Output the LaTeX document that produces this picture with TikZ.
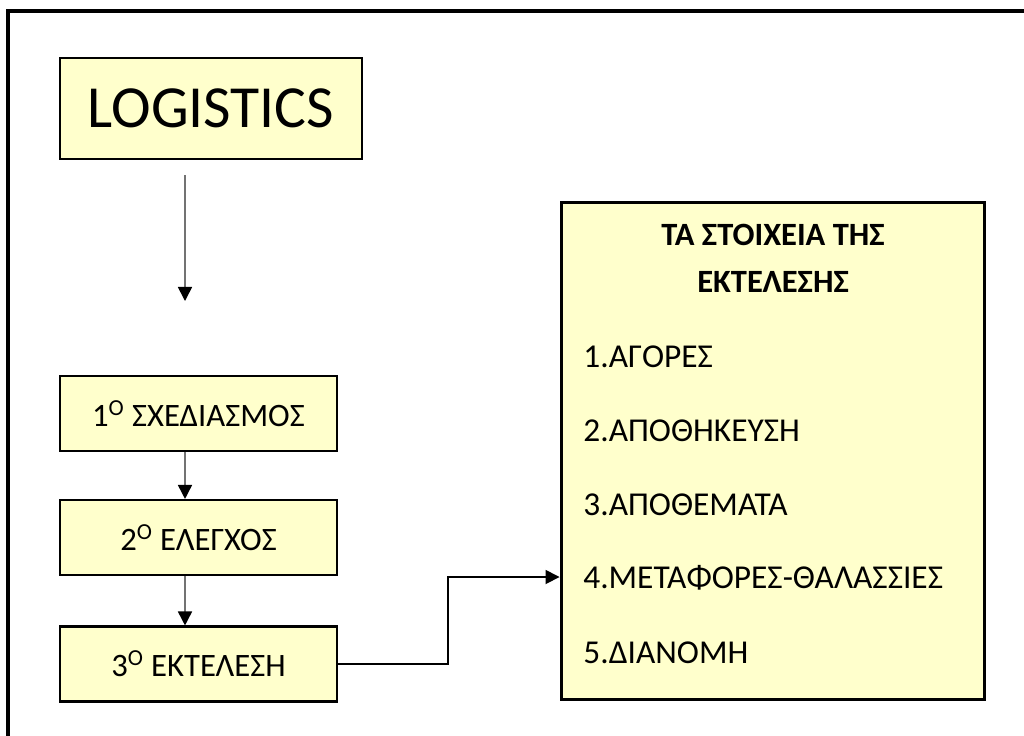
\documentclass[tikz,border=0pt]{standalone}
\usepackage{fontspec}
\setmainfont{Carlito}
\usepackage{tikz}
\usetikzlibrary{arrows.meta,positioning}
\definecolor{boxyellow}{RGB}{255,255,204}
\tikzset{
  stepbox/.style={draw=black, line width=1.2pt, fill=boxyellow, inner sep=0pt,
    minimum width=5.54cm, minimum height=1.5cm, font=\fontsize{18.6}{22}\selectfont},
  item/.style={anchor=west, inner sep=0pt, font=\fontsize{19}{23}\selectfont},
  flow/.style={line width=0.9pt, -{Triangle[length=8pt,width=8pt,color=black]}},
}
\begin{document}
\begin{tikzpicture}[x=0.02cm, y=-0.02cm]
  \useasboundingbox (0,0) rectangle (1024,735);
  % outer frame
  \draw[line width=1.9pt] (8,11) rectangle (1040,760);
  % left column
  \node[stepbox, minimum width=6.04cm, minimum height=2.02cm,
        font=\fontsize{34}{40}\selectfont] (logistics) at (211,108.5) {LOGISTICS};
  \coordinate (down1) at (185,175);
  \coordinate (down2) at (185,301);
  \draw[flow, draw=gray!90!black] (down1) -- (down2);
  \node[stepbox] (sched) at (198.5,413.5) {1\textsuperscript{O} ΣΧΕΔΙΑΣΜΟΣ};
  \node[stepbox] (elegx) at (198.5,537.5) {2\textsuperscript{O} ΕΛΕΓΧΟΣ};
  \node[stepbox] (ekt)   at (198.5,664)   {3\textsuperscript{O} ΕΚΤΕΛΕΣΗ};
  \draw[flow, draw=gray!90!black] ([xshift=-13.5*0.02cm]sched.south) -- ([xshift=-13.5*0.02cm]elegx.north);
  \draw[flow, draw=gray!90!black] ([xshift=-13.5*0.02cm]elegx.south) -- ([xshift=-13.5*0.02cm]ekt.north);
  % right box
  \node[draw=black, line width=1.7pt, fill=boxyellow, minimum width=8.48cm,
        minimum height=9.96cm] (elements) at (773,451) {};
  \node[font=\bfseries\fontsize{18.5}{22}\selectfont, inner sep=0pt] (title1) at (773,235) {ΤΑ ΣΤΟΙΧΕΙΑ ΤΗΣ};
  \node[font=\bfseries\fontsize{18.5}{22}\selectfont, inner sep=0pt] (title2) at (773,282) {ΕΚΤΕΛΕΣΗΣ};
  \node[item] (item1) at (583,357) {1.ΑΓΟΡΕΣ};
  \node[item] (item2) at (583,431) {2.ΑΠΟΘΗΚΕΥΣΗ};
  \node[item] (item3) at (583,505) {3.ΑΠΟΘΕΜΑΤΑ};
  \node[item] (item4) at (583,578) {4.ΜΕΤΑΦΟΡΕΣ-ΘΑΛΑΣΣΙΕΣ};
  \node[item] (item5) at (583,653) {5.ΔΙΑΝΟΜΗ};
  % connector
  \coordinate (bend) at (448,577);
  \draw[flow] (ekt.east) -| (bend) -- (elements.west |- bend);
\end{tikzpicture}
\end{document}
